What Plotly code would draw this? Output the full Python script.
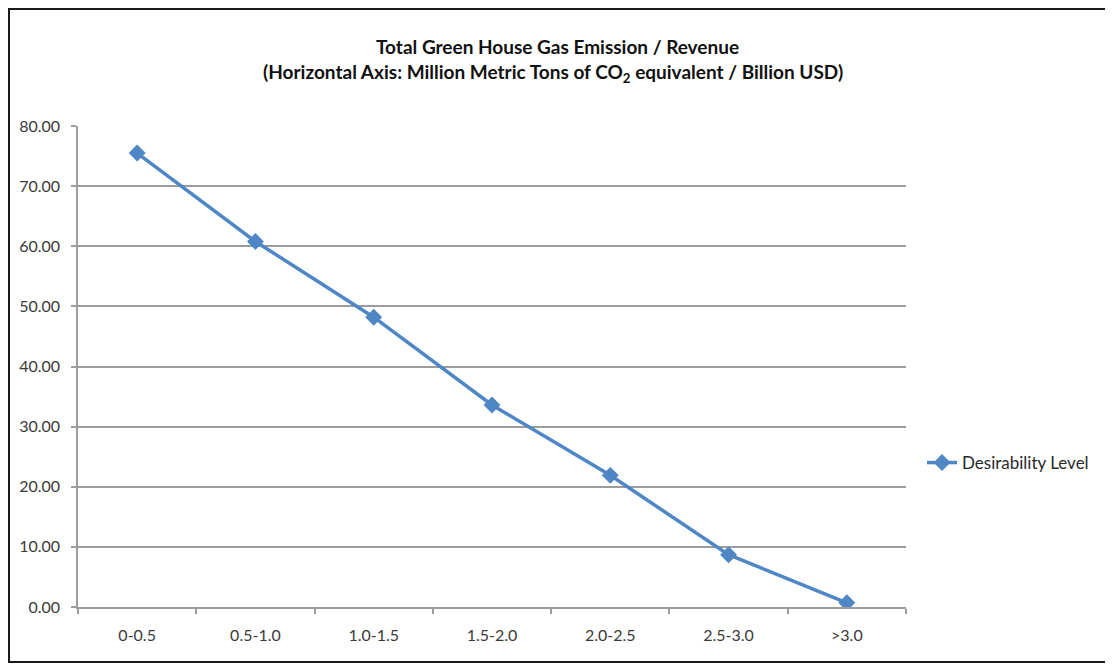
import plotly.graph_objects as go

categories = ["0-0.5", "0.5-1.0", "1.0-1.5", "1.5-2.0", "2.0-2.5", "2.5-3.0", ">3.0"]
desirability = [75.5, 60.8, 48.2, 33.6, 21.9, 8.7, 0.7]
series_name = "Desirability Level"
y_ticks = [0, 10, 20, 30, 40, 50, 60, 70, 80]
y_tick_labels = ["0.00", "10.00", "20.00", "30.00", "40.00", "50.00", "60.00", "70.00", "80.00"]
title_line1 = "Total Green House Gas Emission / Revenue"
title_line2 = "(Horizontal Axis: Million Metric Tons of CO<sub>2</sub> equivalent / Billion USD)"

# page has an 8px body margin; work in screen pixels and offset
OX, OY = 8, 8
SW, SH = 1113, 665
W, H = SW - OX, SH - OY
# plot area in screen pixels
L, R, T, B = 78, 906, 126, 607

def px_x(p):
    return (p - L) / (R - L)

def px_y(p):
    return (B - p) / (B - T)

font_family = "Lato, Carlito, Calibri, sans-serif"
line_color = "#4F86C6"
grid_color = "#9c9c9c"

fig = go.Figure()
fig.add_trace(go.Scatter(
    x=categories, y=desirability, name=series_name,
    mode="lines+markers",
    line=dict(color=line_color, width=3.5),
    marker=dict(symbol="diamond", size=13, color=line_color),
    showlegend=True,
))

fig.update_layout(
    width=W, height=H,
    margin=dict(l=L - OX, r=SW - R, t=T - OY, b=SH - B, pad=0),
    paper_bgcolor="white", plot_bgcolor="white",
    font=dict(family=font_family, color="#3a3a3a", size=16),
    showlegend=True,
    legend=dict(x=px_x(922), y=px_y(463), xanchor="left", yanchor="middle",
                font=dict(size=17, color="#2a2a2a"), bgcolor="rgba(0,0,0,0)"),
    xaxis=dict(
        type="category", range=[-0.5, len(categories) - 0.5],
        showgrid=False, showline=True, linecolor=grid_color, linewidth=1.5,
        ticks="outside", ticklen=5, tickcolor=grid_color, tickwidth=1.5,
        tickson="boundaries", ticklabelstandoff=13,
        tickfont=dict(size=16, color="#3a3a3a"),
    ),
    yaxis=dict(
        range=[0, 80], tickvals=y_ticks, ticktext=y_tick_labels,
        showgrid=True, gridcolor=grid_color, gridwidth=1.5,
        showline=True, linecolor=grid_color, linewidth=1.5,
        ticks="outside", ticklen=5, tickcolor=grid_color, tickwidth=1.5,
        ticklabelstandoff=8, zeroline=False,
        tickfont=dict(size=16, color="#3a3a3a"),
    ),
    annotations=[
        dict(text="<b>" + title_line1 + "</b>", xref="paper", yref="paper",
             x=px_x(557), y=px_y(46), xanchor="center", yanchor="middle",
             showarrow=False, font=dict(size=19, color="#111111", family=font_family)),
        dict(text="<b>" + title_line2 + "</b>", xref="paper", yref="paper",
             x=px_x(553), y=px_y(73), xanchor="center", yanchor="middle",
             showarrow=False, font=dict(size=19, color="#111111", family=font_family)),
    ],
    shapes=[
        dict(type="rect", xref="paper", yref="paper",
             x0=px_x(OX + 1), x1=px_x(1109), y0=px_y(662), y1=px_y(OY + 1),
             line=dict(color="#1a1a1a", width=2), fillcolor="rgba(0,0,0,0)", layer="below"),
    ],
)

fig.write_html("out.html")
